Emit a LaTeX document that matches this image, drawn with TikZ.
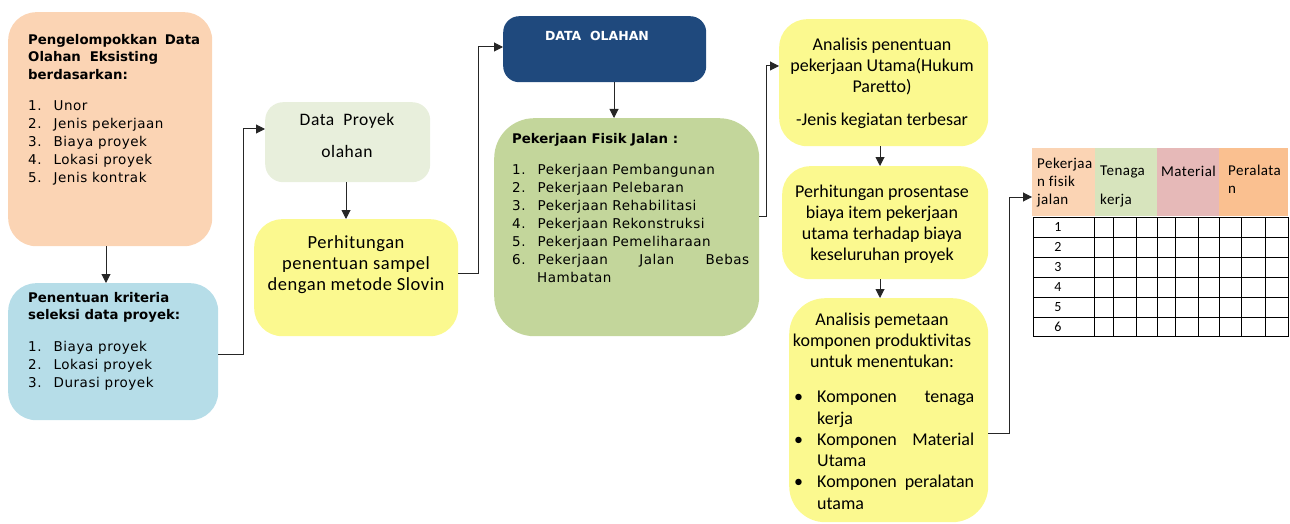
\documentclass[tikz,border=0pt]{standalone}
\usepackage{fontspec}
\setmainfont{Carlito}[Ligatures={NoCommon}]
\newfontfamily\calsp{Carlito}[LetterSpace=3,Ligatures={NoCommon}]
\newfontfamily\verd{DejaVu Sans}[LetterSpace=4]
\newfontfamily\verdb{DejaVu Sans}
\usetikzlibrary{arrows.meta}
\definecolor{peach}{HTML}{FBD4B4}
\definecolor{skyb}{HTML}{B6DDE8}
\definecolor{palegreen}{HTML}{E8EFDC}
\definecolor{olivegreen}{HTML}{C3D69B}
\definecolor{navy}{HTML}{1F497D}
\definecolor{lemon}{HTML}{FBF98F}
\definecolor{thgreen}{HTML}{D7E4BD}
\definecolor{thpink}{HTML}{E6B9B8}
\definecolor{thorange}{HTML}{FAC090}
\tikzset{
  box/.style={anchor=north west, inner sep=0pt, rounded corners=#1},
  box/.default=28pt,
  arr/.style={-{Triangle[length=9pt,width=9pt]}, line width=1pt, black!85},
  lst/.style={anchor=north west, inner sep=0pt, align=left, font=\verd\fontsize{13.5}{18}\selectfont},
  ttl/.style={anchor=north west, inner sep=0pt, align=left, font=\verdb\bfseries\fontsize{13.3}{17.5}\selectfont},
  cal/.style={anchor=north, inner sep=0pt, align=center, font=\fontsize{18}{21}\selectfont},
  hdr/.style={anchor=north west, inner sep=0pt, align=left, font=\calsp\fontsize{15}{18}\selectfont},
}
\begin{document}
\begin{tikzpicture}[x=1pt,y=-1pt]
\useasboundingbox (0,0) rectangle (1290,524);

% ---- column 1: grouping criteria and selection criteria
\node[box, fill=peach, minimum width=204pt, minimum height=234pt] (b1) at (8,12) {};
\node[ttl, text width=172pt] (b1t) at (28,34) {Pengelompokkan\hfill Data\\Olahan\ \ Eksisting\\berdasarkan:};
\node[lst] (b1l) at (28,100) {1.\hspace{12pt}Unor\\2.\hspace{12pt}Jenis pekerjaan\\3.\hspace{12pt}Biaya proyek\\4.\hspace{12pt}Lokasi proyek\\5.\hspace{12pt}Jenis kontrak};

\node[box, fill=skyb, minimum width=210pt, minimum height=137pt] (b2) at (8,283) {};
\node[ttl] (b2t) at (28,292) {Penentuan kriteria\\seleksi data proyek:};
\node[lst] (b2l) at (28,341) {1.\hspace{12pt}Biaya proyek\\2.\hspace{12pt}Lokasi proyek\\3.\hspace{12pt}Durasi proyek};

% ---- column 2: project data and sample size
\node[box=18pt, fill=palegreen, minimum width=165pt, minimum height=80pt] (b3) at (265,102) {};
\node[cal, font=\calsp\fontsize{17.5}{32}\selectfont] (b3t) at (347,113) {Data\ \ Proyek\\olahan};

\node[box, fill=lemon, minimum width=204pt, minimum height=117pt] (b4) at (254,219) {};
\node[cal, font=\calsp\fontsize{18.5}{21}\selectfont] (b4t) at (356,235) {Perhitungan\\penentuan sampel\\dengan metode Slovin};

% ---- column 3: processed data and road work types
\node[box=16pt, fill=navy, minimum width=203pt, minimum height=66pt] (b5) at (503,16) {};
\node[font=\verdb\bfseries\fontsize{12.5}{12}\selectfont, text=white, anchor=north, inner sep=0pt] (b5t) at (597,31) {DATA\ \ OLAHAN};

\node[box=40pt, fill=olivegreen, minimum width=265pt, minimum height=218pt] (b6) at (494,118) {};
\node[ttl] (b6t) at (512,133) {Pekerjaan Fisik Jalan :};
\node[lst, text width=237pt] (b6l) at (512,164) {1.\hspace{12pt}Pekerjaan Pembangunan\\2.\hspace{12pt}Pekerjaan Pelebaran\\3.\hspace{12pt}Pekerjaan Rehabilitasi\\4.\hspace{12pt}Pekerjaan Rekonstruksi\\5.\hspace{12pt}Pekerjaan Pemeliharaan\\6.\hspace{12pt}Pekerjaan\hfill Jalan\hfill Bebas\\\hspace*{25pt}Hambatan};

% ---- column 4: analysis steps
\node[box, fill=lemon, minimum width=209pt, minimum height=127pt] (b7) at (779,19) {};
\node[cal] (b7t) at (882,38) {Analisis penentuan\\pekerjaan Utama(Hukum\\Paretto)\\[12pt]-Jenis kegiatan terbesar};

\node[box, fill=lemon, minimum width=206pt, minimum height=113pt] (b8) at (782,166) {};
\node[cal] (b8t) at (882,185) {Perhitungan prosentase\\biaya item pekerjaan\\utama terhadap biaya\\keseluruhan proyek};

\node[box=36pt, fill=lemon, minimum width=199pt, minimum height=224pt] (b9) at (789,298) {};
\node[cal] (b9t) at (882,313) {Analisis pemetaan\\komponen produktivitas\\untuk menentukan:};
\node[anchor=north west, inner sep=0pt, text width=180pt, align=left, font=\fontsize{18}{21.3}\selectfont] (b9l) at (794,391)
  {\makebox[23pt][l]{\textbullet}Komponen\hfill tenaga\\\hspace*{23pt}kerja\\
   \makebox[23pt][l]{\textbullet}Komponen\hfill Material\\\hspace*{23pt}Utama\\
   \makebox[23pt][l]{\textbullet}Komponen\hfill peralatan\\\hspace*{23pt}utama};

% ---- productivity component table
\fill[peach]    (1032,148) rectangle (1095,216);
\fill[thgreen]  (1095,148) rectangle (1157,216);
\fill[thpink]   (1157,148) rectangle (1219,216);
\fill[thorange] (1219,148) rectangle (1288,216);
\node[hdr] (h1) at (1037,158) {Pekerjaa\\n fisik\\jalan};
\node[hdr, font=\calsp\fontsize{15}{29}\selectfont] (h2) at (1100,166) {Tenaga\\kerja};
\node[hdr] (h3) at (1161,166) {Material};
\node[hdr] (h4) at (1228,165) {Peralata\\n};
\coordinate (tab) at (1032,197);
\draw[line width=0.8pt]
  (1033,217) rectangle (1288,336)
  \foreach \y in {237,257,277,297,317} {(1033,\y) -- (1288,\y)}
  \foreach \x in {1094,1113,1136,1157,1175,1198,1219,1241,1265} {(\x,217) -- (\x,336)};
\foreach \n [count=\i] in {1,...,6}
  \node[font=\fontsize{14}{14}\selectfont, inner sep=0pt] (r\i) at (1058,217+20*\i-10) {\n};

% ---- connectors
\draw[arr] (b1.south -| 106,0) -- (b2.north -| 106,0);
\draw[arr] ([yshift=-71pt]b2.north east) -- ++(25,0) |- ([yshift=-27pt]b3.north west);
\draw[arr] (b3.south -| 346,0) -- (b4.north -| 346,0);
\draw[arr] ([yshift=-54pt]b4.north east) -- ++(20,0) |- ([yshift=-31pt]b5.north west);
\draw[arr] (b5.south -| 614,0) -- (b6.north -| 614,0);
\draw[arr] ([yshift=-98pt]b6.north east) -- ++(7,0) |- ([yshift=-47pt]b7.north west);
\draw[arr] (b7.south -| 880,0) -- (b8.north -| 880,0);
\draw[arr] (b8.south -| 880,0) -- (b9.north -| 880,0);
\draw[arr] ([yshift=-135pt]b9.north east) -- ++(21,0) |- (tab);
\end{tikzpicture}
\end{document}
